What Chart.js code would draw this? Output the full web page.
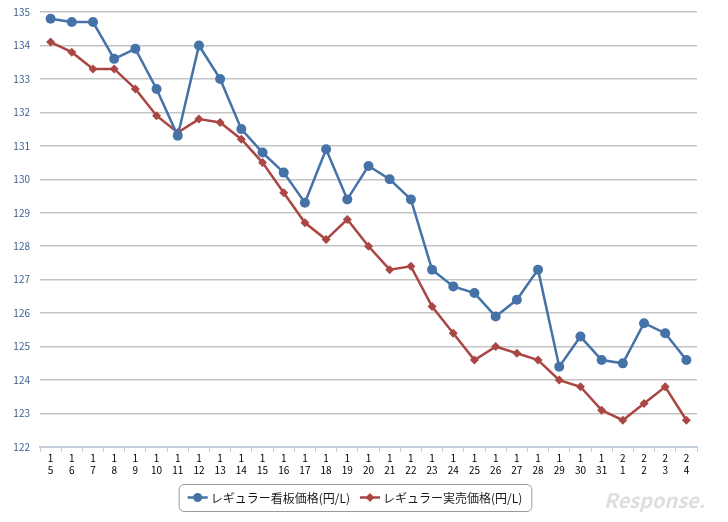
<!DOCTYPE html>
<html>
<head>
<meta charset="utf-8">
<script src="https://cdn.jsdelivr.net/npm/chart.js@4.4.9/dist/chart.umd.min.js"></script>
<style>
  html, body { margin: 0; padding: 0; background: #fff; }
  #wrap { width: 728px; height: 522px; }
</style>
</head>
<body>
<div id="wrap"><canvas id="chart"></canvas></div>
<script>
// 日付 (月, 日)
const months = [1,1,1,1,1,1,1,1,1,1,1,1,1,1,1,1,1,1,1,1,1,1,1,1,1,1,1,2,2,2,2];
const days   = [5,6,7,8,9,10,11,12,13,14,15,16,17,18,19,20,21,22,23,24,25,26,27,28,29,30,31,1,2,3,4];

// 看板価格
const kanban = [134.8,134.7,134.7,133.6,133.9,132.7,131.3,134.0,133.0,131.5,130.8,130.2,129.3,130.9,129.4,130.4,130.0,129.4,127.3,126.8,126.6,125.9,126.4,127.3,124.4,125.3,124.6,124.5,125.7,125.4,124.6];
// 実売価格
const jitsubai = [134.1,133.8,133.3,133.3,132.7,131.9,131.4,131.8,131.7,131.2,130.5,129.6,128.7,128.2,128.8,128.0,127.3,127.4,126.2,125.4,124.6,125.0,124.8,124.6,124.0,123.8,123.1,122.8,123.3,123.8,122.8];

const seriesNames = ['レギュラー看板価格(円/L)', 'レギュラー実売価格(円/L)'];
const blue = '#4572A7';
const red = '#AA4643';
const font = '"Noto Sans CJK JP", "DejaVu Sans", sans-serif';

const labels = months.map((m, i) => [String(m), String(days[i])]);

// 下の凡例 (線＋マーカー) と透かし
const legendBox = {
    id: 'legendBox',
    afterDraw(chart) {
        const c = chart.ctx;
        c.save();
        c.font = '12px ' + font;
        const symW = 20, gap = 3, itemGap = 10, pad = 9;
        const widths = seriesNames.map(n => symW + gap + c.measureText(n).width);
        const total = widths.reduce((a, b) => a + b, 0) + itemGap + pad * 2;
        const cx = 355, top = 484, h = 27;
        let x = cx - total / 2;
        c.strokeStyle = '#9a9a9a';
        c.lineWidth = 1;
        c.beginPath();
        c.roundRect(x + 0.5, top + 0.5, total, h, 5);
        c.stroke();
        x += pad;
        const my = top + h / 2;
        const colors = [blue, red];
        seriesNames.forEach((name, i) => {
            c.strokeStyle = colors[i];
            c.fillStyle = colors[i];
            c.lineWidth = 2.5;
            c.beginPath();
            c.moveTo(x, my);
            c.lineTo(x + symW, my);
            c.stroke();
            c.beginPath();
            if (i === 0) {
                c.arc(x + symW / 2, my, 4.5, 0, Math.PI * 2);
            } else {
                const r = 4.5;
                c.moveTo(x + symW / 2, my - r);
                c.lineTo(x + symW / 2 + r, my);
                c.lineTo(x + symW / 2, my + r);
                c.lineTo(x + symW / 2 - r, my);
                c.closePath();
            }
            c.fill();
            c.fillStyle = '#1a1a1a';
            c.textBaseline = 'middle';
            c.fillText(name, x + symW + gap, my + 1);
            x += widths[i] + itemGap;
        });
        // 透かし
        c.font = 'italic bold 20px ' + font;
        c.fillStyle = 'rgba(160,160,160,0.35)';
        c.textBaseline = 'alphabetic';
        c.fillText('Response.', 604, 508);
        c.restore();
    }
};

new Chart(document.getElementById('chart'), {
    type: 'line',
    data: {
        labels: labels,
        datasets: [
            {
                label: seriesNames[0],
                data: kanban,
                borderColor: blue,
                backgroundColor: blue,
                borderWidth: 2.5,
                pointStyle: 'circle',
                pointRadius: 5,
                pointBorderWidth: 0,
                tension: 0,
                fill: false
            },
            {
                label: seriesNames[1],
                data: jitsubai,
                borderColor: red,
                backgroundColor: red,
                borderWidth: 2.5,
                pointStyle: 'rectRot',
                pointRadius: 4.5,
                pointBorderWidth: 0,
                tension: 0,
                fill: false
            }
        ]
    },
    options: {
        responsive: true,
        maintainAspectRatio: false,
        animation: false,
        layout: { padding: { left: 0, right: 31, top: 12, bottom: 42 } },
        plugins: {
            legend: { display: false },
            tooltip: { enabled: false }
        },
        scales: {
            x: {
                offset: true,
                grid: {
                    display: true,
                    offset: true,
                    drawOnChartArea: false,
                    drawTicks: true,
                    tickLength: 5,
                    color: '#c5cfdb'
                },
                border: { display: true, color: '#c5cfdb', width: 2 },
                ticks: {
                    color: '#000',
                    font: { family: font, size: 10 },
                    maxRotation: 0,
                    autoSkip: false,
                    padding: 0
                },
                afterFit(s) { s.height = 33; }
            },
            y: {
                min: 122,
                max: 135,
                ticks: {
                    stepSize: 1,
                    color: '#3f5f8f',
                    font: { family: font, size: 10, lineHeight: 0.8 },
                    padding: 10
                },
                grid: { color: '#c4c4c4', lineWidth: 1.5, drawTicks: false },
                border: { display: false },
                afterFit(s) { s.width = 40; s.paddingTop = 0; }
            }
        }
    },
    plugins: [legendBox]
});
</script>
</body>
</html>
